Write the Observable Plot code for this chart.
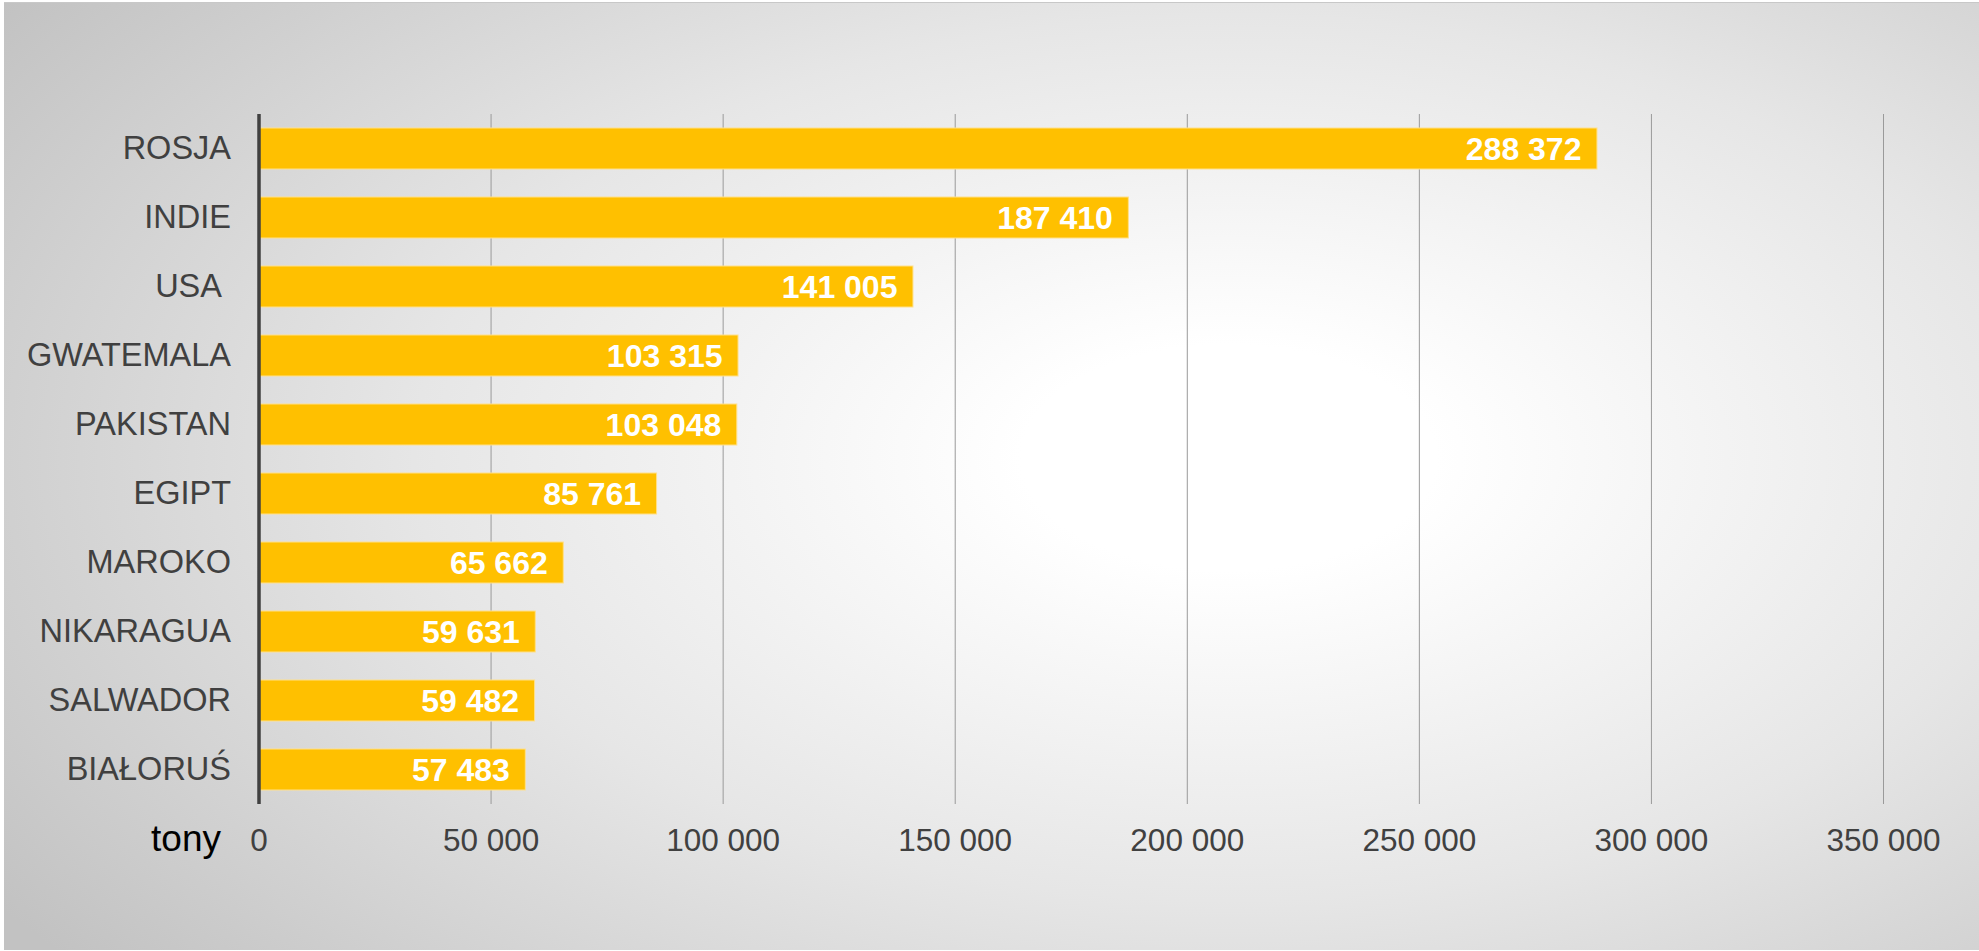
<!DOCTYPE html>
<html>
<head>
<meta charset="utf-8">
<script src="https://cdn.jsdelivr.net/npm/d3@7"></script>
<script src="https://cdn.jsdelivr.net/npm/@observablehq/plot@0.6"></script>
<style>
  html, body { margin: 0; padding: 0; background: #ffffff; }
  #page { position: relative; width: 1979px; height: 951px; overflow: hidden; font-family: "Liberation Sans", Arial, sans-serif; }
  #bg { position: absolute; left: 4px; top: 2px; width: 1975px; height: 947px;
        border-top: 1px solid #c8c8c8;
        background: radial-gradient(ellipse 75% 85% at 62% 48%, #ffffff 0%, #ffffff 14%, #e6e6e6 55%, #c2c2c2 100%); }
  #chart { position: absolute; left: 0; top: 0; }
</style>
</head>
<body>
<div id="page"><div id="bg"></div><div id="chart"></div></div>
<script>
const countries = ["ROSJA", "INDIE", "USA\u00a0", "GWATEMALA", "PAKISTAN", "EGIPT", "MAROKO", "NIKARAGUA", "SALWADOR", "BIAŁORUŚ"];
const values = [288372, 187410, 141005, 103315, 103048, 85761, 65662, 59631, 59482, 57483];
const xTicks = [0, 50000, 100000, 150000, 200000, 250000, 300000, 350000];
const unitLabel = "tony";

const data = countries.map((c, i) => ({country: c, value: values[i]}));
const fmt = v => d3.format(",")(v).replace(/,/g, " ");

const chart = Plot.plot({
  width: 1979,
  height: 951,
  marginLeft: 258.5,
  marginRight: 96,
  marginTop: 114,
  marginBottom: 147,
  style: {background: "transparent", fontFamily: "'Liberation Sans', Arial, sans-serif"},
  x: {domain: [0, 350000]},
  y: {domain: countries, paddingInner: 0.4, paddingOuter: 0.2},
  marks: [
    Plot.ruleX(xTicks.slice(1), {stroke: "#9a9a9a", strokeWidth: 1}),
    Plot.barX(data, {y: "country", x: "value", fill: "#FFC000", stroke: "#ffe08a", strokeWidth: 1}),
    Plot.ruleX([0], {stroke: "#404040", strokeWidth: 3.5}),
    Plot.text(data, {y: "country", x: "value", text: d => fmt(d.value), textAnchor: "end", dx: -16, dy: 1,
      fill: "white", fontWeight: "bold", fontSize: 32}),
    Plot.axisY({tickSize: 0, tickPadding: 28, fontSize: 32.5, fill: "#404040", label: null}),
    Plot.axisX({ticks: xTicks, tickSize: 0, tickPadding: 24, tickFormat: fmt, fontSize: 31.5, fill: "#404040", label: null}),
    Plot.text([unitLabel], {frameAnchor: "bottom-left", textAnchor: "end", lineAnchor: "middle",
      dx: -38, dy: 35, fontSize: 37, fill: "black"})
  ]
});
document.getElementById("chart").appendChild(chart);
</script>
</body>
</html>
